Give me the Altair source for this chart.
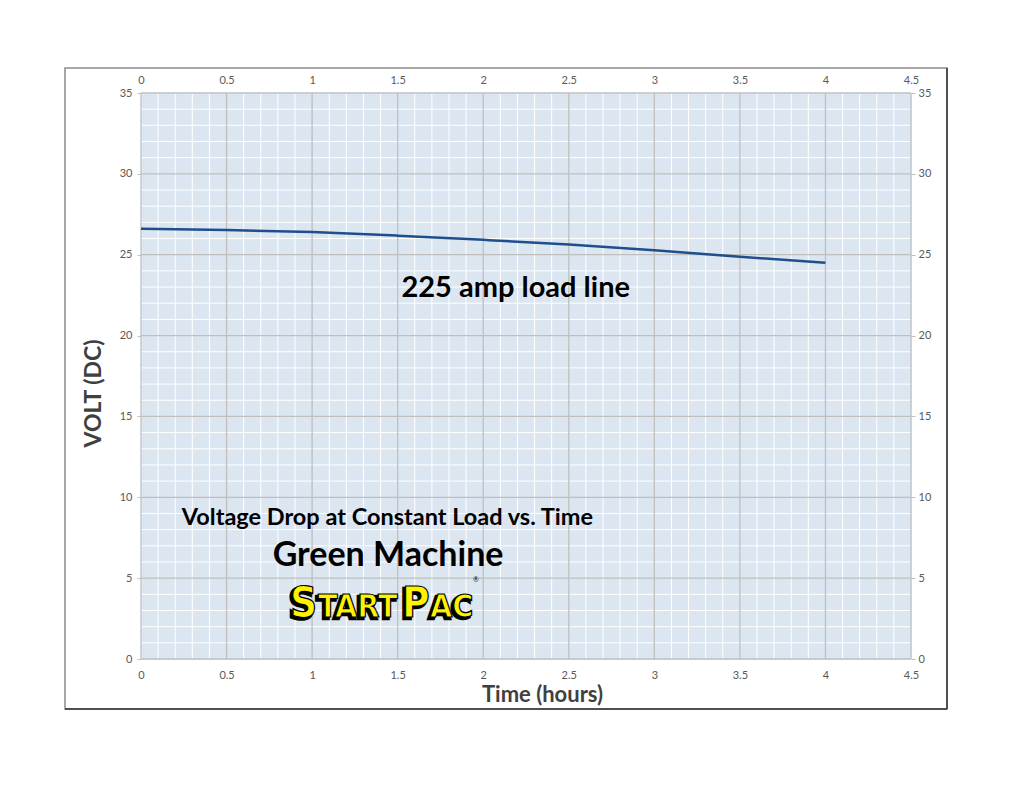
import altair as alt
import pandas as pd

# ---- data ----
hours = [0, 0.5, 1, 1.5, 2, 2.5, 3, 3.5, 4]
volts = [26.6, 26.53, 26.4, 26.18, 25.92, 25.63, 25.28, 24.88, 24.5]

x_major = [0, 0.5, 1, 1.5, 2, 2.5, 3, 3.5, 4, 4.5]
y_major = [0, 5, 10, 15, 20, 25, 30, 35]
x_minor = [round(i * 0.1, 1) for i in range(46) if i % 5 != 0]
y_minor = [i for i in range(36) if i % 5 != 0]

ann_text = ["225 amp load line", "Voltage Drop at Constant Load vs. Time", "Green Machine"]
ann_x = [2.19, 1.44, 1.444]
ann_y = [22.94, 8.72, 6.37]
ann_size = [29, 23.5, 34]

logo_text = ["S", "TART", "P", "AC"]
logo_x = [0.871, 1.034, 1.525, 1.689]
logo_y = [2.6, 2.6, 2.6, 2.6]
logo_size = [42, 32, 42, 32]

reg_text = ["®"]
reg_x = [1.94]
reg_y = [4.9]

FONT = "Lato"
LOGO_FONT = "Liberation Sans Narrow, DejaVu Sans Condensed, sans-serif"
XS = alt.Scale(domain=[0, 4.5], nice=False)
YS = alt.Scale(domain=[0, 35], nice=False)

line_df = pd.DataFrame({"h": hours, "v": volts})

xminor = alt.Chart(pd.DataFrame({"x": x_minor})).mark_rule(color="white", strokeWidth=1).encode(
    x=alt.X("x:Q", scale=XS, axis=alt.Axis(orient="bottom", values=x_major, grid=False, ticks=False,
                                          domain=False, labelPadding=10, labelFont=FONT, labelFontSize=11,
                                          labelColor="#595959", title="Time (hours)", titleFont=FONT,
                                          titleFontSize=22, titleFontWeight="bold", titleColor="#404040",
                                          titlePadding=4, titleX=401, format="~g", labelFlush=False)),
)
yminor = alt.Chart(pd.DataFrame({"y": y_minor})).mark_rule(color="white", strokeWidth=1).encode(
    y=alt.Y("y:Q", scale=YS, axis=alt.Axis(orient="left", values=y_major, grid=False, ticks=True, tickSize=4,
                                          tickColor="#BFBFBF", domain=False, labelPadding=5, labelFont=FONT,
                                          labelFontSize=11, labelColor="#595959", title="VOLT (DC)",
                                          titleFont=FONT, titleFontSize=23, titleFontWeight="bold",
                                          titleColor="#404040", titlePadding=14, titleY=300,
                                          labelFlush=False)),
)
xmaj = alt.Chart(pd.DataFrame({"x": x_major})).mark_rule(color="#BFBFBF", strokeWidth=1.3).encode(
    x=alt.X("x:Q", scale=XS))
ymaj = alt.Chart(pd.DataFrame({"y": y_major})).mark_rule(color="#BFBFBF", strokeWidth=1.3).encode(
    y=alt.Y("y:Q", scale=YS))

line = alt.Chart(line_df).mark_line(color="#1F4E8C", strokeWidth=2.5, interpolate="monotone").encode(
    x=alt.X("h:Q", scale=XS), y=alt.Y("v:Q", scale=YS))

ann_df = pd.DataFrame({"t": ann_text, "x": ann_x, "y": ann_y, "s": ann_size})
ann = alt.Chart(ann_df).mark_text(font=FONT, fontWeight="bold", color="black", align="center",
                                  baseline="middle").encode(
    x=alt.X("x:Q", scale=XS), y=alt.Y("y:Q", scale=YS), text="t:N",
    size=alt.Size("s:Q", scale=None, legend=None))

logo_df = pd.DataFrame({"t": logo_text, "x": logo_x, "y": logo_y, "s": logo_size})
logo_shadow = alt.Chart(logo_df).mark_text(font=LOGO_FONT, fontWeight="bold", fill="black", stroke="black",
                                           strokeWidth=2.5, align="left", baseline="alphabetic",
                                           dx=-2, dy=2).encode(
    x=alt.X("x:Q", scale=XS), y=alt.Y("y:Q", scale=YS), text="t:N",
    size=alt.Size("s:Q", scale=None, legend=None))
logo = alt.Chart(logo_df).mark_text(font=LOGO_FONT, fontWeight="bold", fill="#FFF200", stroke="black",
                                    strokeWidth=1.2, align="left", baseline="alphabetic").encode(
    x=alt.X("x:Q", scale=XS), y=alt.Y("y:Q", scale=YS), text="t:N",
    size=alt.Size("s:Q", scale=None, legend=None))
reg = alt.Chart(pd.DataFrame({"t": reg_text, "x": reg_x, "y": reg_y})).mark_text(
    font=FONT, fontSize=7, color="black", align="left", baseline="middle").encode(
    x=alt.X("x:Q", scale=XS), y=alt.Y("y:Q", scale=YS), text="t:N")

frame = alt.Chart(pd.DataFrame({"a": [0]})).mark_rect(fill="transparent", stroke="#8C8C8C",
                                                       strokeWidth=1.5).encode(
    x=alt.value(-76), x2=alt.value(806), y=alt.value(-25), y2=alt.value(616))
frame_dark = alt.Chart(pd.DataFrame({"a": [0]})).mark_rule(color="#333333", strokeWidth=1.5).encode(
    x=alt.value(806), y=alt.value(-25), y2=alt.value(616))
frame_dark2 = alt.Chart(pd.DataFrame({"a": [0]})).mark_rule(color="#333333", strokeWidth=1.5).encode(
    x=alt.value(-76), x2=alt.value(806), y=alt.value(616))

main = alt.layer(xminor, yminor, xmaj, ymaj, line, ann, logo_shadow, logo, reg,
                 frame, frame_dark, frame_dark2)

secondary = alt.Chart(line_df).mark_point(opacity=0).encode(
    x=alt.X("h:Q", scale=XS, axis=alt.Axis(orient="top", values=x_major, grid=False, ticks=False,
                                          domain=False, labelPadding=8, labelFont=FONT, labelFontSize=11,
                                          labelColor="#595959", title=None, format="~g", labelFlush=False)),
    y=alt.Y("v:Q", scale=YS, axis=alt.Axis(orient="right", values=y_major, grid=False, ticks=True,
                                          tickSize=4, tickColor="#BFBFBF", domain=False, labelPadding=3,
                                          labelFont=FONT, labelFontSize=11, labelColor="#595959",
                                          title=None, labelFlush=False)),
)

chart = alt.layer(main, secondary).resolve_scale(x="independent", y="independent").properties(
    width=770, height=566,
    autosize=alt.AutoSizeParams(type="none"),
    padding={"left": 133, "top": 85, "right": 100, "bottom": 120},
    background="white",
).configure_view(fill="#DCE6F1", stroke="transparent")

chart.save("out.html", embed_options={"renderer": "svg", "actions": False})
